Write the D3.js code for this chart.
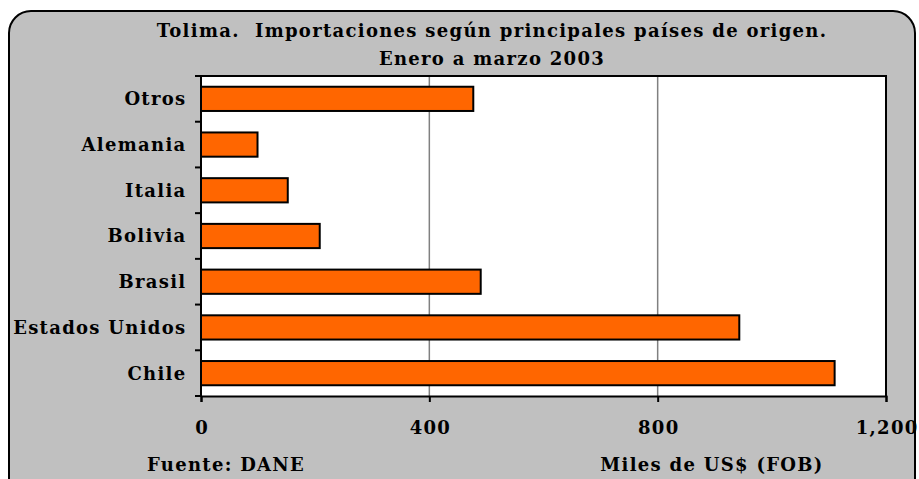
<!DOCTYPE html>
<html>
<head>
<meta charset="utf-8">
<script src="https://cdn.jsdelivr.net/npm/d3@7"></script>
<style>
  html, body { margin: 0; padding: 0; background: #fff; }
  text { font-family: "DejaVu Serif", serif; font-weight: bold; fill: #000; font-size: 18px; letter-spacing: 1.3px; white-space: pre; }
</style>
</head>
<body>
<div id="chart"></div>
<script>
// ==== Data ====
const paises = ["Otros", "Alemania", "Italia", "Bolivia", "Brasil", "Estados Unidos", "Chile"];
const valores = [477, 99, 152, 208, 490, 943, 1110];
const ticks = [0, 400, 800, 1200];
const titulo = ["Tolima.  Importaciones según principales países de origen.", "Enero a marzo 2003"];
const fuente = "Fuente: DANE";
const unidad = "Miles de US$ (FOB)";

// ==== Setup ====
const W = 919, H = 479;
const margin = { top: 76, right: 33, bottom: 83, left: 201 };
const width = W - margin.left - margin.right;
const height = H - margin.top - margin.bottom;

const root = d3.select("#chart").append("svg")
    .attr("width", W)
    .attr("height", H);

// frame
root.append("rect")
    .attr("x", 9).attr("y", 11)
    .attr("width", 906).attr("height", 490)
    .attr("rx", 22).attr("ry", 22)
    .attr("fill", "#c0c0c0")
    .attr("stroke", "#000")
    .attr("stroke-width", 2);

// titles
root.append("text")
    .attr("x", 492).attr("y", 37)
    .attr("text-anchor", "middle")
    .text(titulo[0]);
root.append("text")
    .attr("x", 492).attr("y", 65)
    .attr("text-anchor", "middle")
    .text(titulo[1]);

const svg = root.append("g")
    .attr("transform", `translate(${margin.left},${margin.top})`);

// ==== Scales ====
const xScale = d3.scaleLinear()
    .domain([0, 1200])
    .range([0, width]);

const yScale = d3.scaleBand()
    .domain(paises)
    .range([0, height])
    .paddingInner(0.47)
    .paddingOuter(0.235);

// plot area
svg.append("rect")
    .attr("width", width).attr("height", height)
    .attr("fill", "#fff");

// gridlines
svg.selectAll(".grid")
    .data(ticks.filter(t => t > 0 && t < 1200))
    .join("line")
    .attr("class", "grid")
    .attr("x1", d => xScale(d)).attr("x2", d => xScale(d))
    .attr("y1", 0).attr("y2", height)
    .attr("stroke", "#808080")
    .attr("stroke-width", 1.5);

// border top/right
svg.append("path")
    .attr("d", `M0,0H${width}V${height}`)
    .attr("fill", "none")
    .attr("stroke", "#000")
    .attr("stroke-width", 2);

// bars
svg.selectAll(".bar")
    .data(paises.map((p, i) => ({ pais: p, valor: valores[i] })))
    .join("rect")
    .attr("class", "bar")
    .attr("x", 0)
    .attr("y", d => yScale(d.pais))
    .attr("width", d => xScale(d.valor))
    .attr("height", yScale.bandwidth())
    .attr("fill", "#ff6600")
    .attr("stroke", "#000")
    .attr("stroke-width", 2);

// ==== Axes ====
const xAxis = d3.axisBottom(xScale)
    .tickValues(ticks)
    .tickFormat(d3.format(","))
    .tickSize(6)
    .tickPadding(19);

const gx = svg.append("g")
    .attr("transform", `translate(0,${height})`)
    .call(xAxis);
gx.select(".domain").attr("stroke-width", 2);
gx.selectAll(".tick line").attr("stroke-width", 2);
gx.selectAll(".tick text")
    .attr("font-size", null)
    .attr("font-family", null)
    .attr("dx", "0.6px");

// y axis: ticks on category boundaries
const gy = svg.append("g");
gy.append("line")
    .attr("x1", 0).attr("x2", 0)
    .attr("y1", 0).attr("y2", height)
    .attr("stroke", "#000").attr("stroke-width", 2);
gy.selectAll(".yt")
    .data(d3.range(paises.length + 1))
    .join("line")
    .attr("x1", -6).attr("x2", 0)
    .attr("y1", i => i * height / paises.length)
    .attr("y2", i => i * height / paises.length)
    .attr("stroke", "#000").attr("stroke-width", 2);
gy.selectAll(".yl")
    .data(paises)
    .join("text")
    .attr("x", -14.5)
    .attr("y", d => yScale(d) + yScale.bandwidth() / 2)
    .attr("dy", "0.36em")
    .attr("text-anchor", "end")
    .text(d => d);

// footer
root.append("text")
    .attr("x", 147).attr("y", 471)
    .text(fuente);
root.append("text")
    .attr("x", 712).attr("y", 471)
    .attr("text-anchor", "middle")
    .text(unidad);
</script>
</body>
</html>
